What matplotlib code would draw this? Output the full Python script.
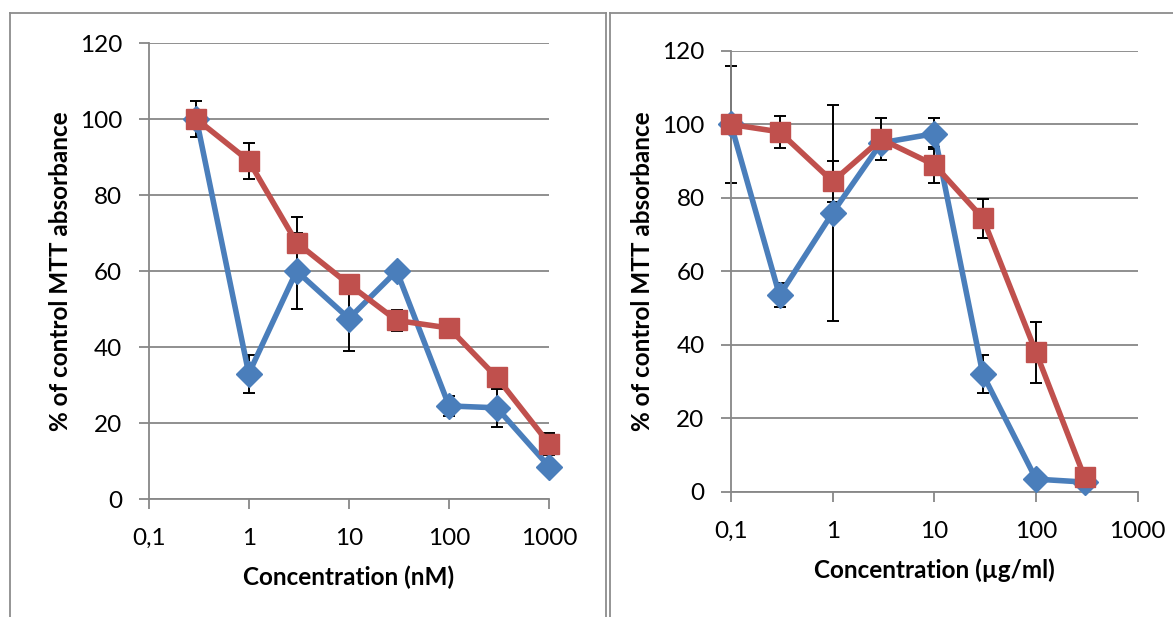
import matplotlib
matplotlib.use("Agg")
import matplotlib.pyplot as plt
import numpy as np
from matplotlib.lines import Line2D
from matplotlib.ticker import FixedLocator, FixedFormatter, NullLocator

plt.rcParams["font.family"] = ["Lato", "DejaVu Sans"]

# left panel (nM)
left_x = [0.3, 1, 3, 10, 30, 100, 300, 1000]
left_blue = [100, 33, 60, 47.5, 60, 24.5, 24, 8.5]
left_blue_err = [0, 5, 10, 8.5, 1.5, 2.7, 5, 0]
left_red = [100, 89, 67.5, 56.5, 47, 45, 32, 14.5]
left_red_err = [4.7, 4.8, 6.7, 0, 2.8, 0, 0, 2.9]

# right panel (ug/ml)
right_x = [0.1, 0.3, 1, 3, 10, 30, 100, 300]
right_blue = [100, 53.5, 76, 95, 97.5, 32, 3.5, 2.7]
right_blue_err = [16, 3.3, 29.4, 0, 4.3, 5.2, 0, 0]
right_red = [100, 98, 84.5, 96, 89, 74.5, 38, 4]
right_red_err = [0, 4.3, 5.6, 5.7, 4.8, 5.3, 8.3, 0]

x_ticks = [0.1, 1, 10, 100, 1000]
x_ticklabels = ["0,1", "1", "10", "100", "1000"]
y_ticks = [0, 20, 40, 60, 80, 100, 120]

BLUE = "#4A7EBB"
RED = "#C0504D"
GRID = "#878787"
FS = 17.5


def draw_panel(ax, x, blue, blue_err, red, red_err, xlabel):
    x = np.asarray(x, dtype=float)
    for y, e in ((blue, blue_err), (red, red_err)):
        y = np.asarray(y, dtype=float)
        e = np.asarray(e, dtype=float)
        m = e > 0
        bars = ax.errorbar(x[m], y[m], yerr=e[m], fmt="none", ecolor="black",
                           elinewidth=1.4, capsize=4.5, capthick=1.4, zorder=2)
        for art in bars.get_children():
            art.set_clip_on(False)
    ax.plot(x, blue, color=BLUE, lw=4, marker="D", ms=13,
            markeredgecolor=BLUE, zorder=3, clip_on=False)
    ax.plot(x, red, color=RED, lw=4, marker="s", ms=14.5,
            markeredgecolor=RED, zorder=4, clip_on=False)

    ax.set_xscale("log")
    ax.set_xlim(0.1, 1000)
    ax.set_ylim(0, 120)
    ax.xaxis.set_major_locator(FixedLocator(x_ticks))
    ax.xaxis.set_major_formatter(FixedFormatter(x_ticklabels))
    ax.xaxis.set_minor_locator(NullLocator())
    ax.set_yticks(y_ticks)
    ax.yaxis.grid(True, color=GRID, lw=1.3)
    ax.set_axisbelow(True)
    for s in ("top", "right"):
        ax.spines[s].set_visible(False)
    for s in ("left", "bottom"):
        ax.spines[s].set_color(GRID)
        ax.spines[s].set_linewidth(1.3)
    ax.tick_params(axis="both", direction="out", color=GRID, width=1.3,
                   length=7, labelsize=FS)
    ax.tick_params(axis="x", pad=14)
    ax.tick_params(axis="y", pad=12)
    ax.set_xlabel(xlabel, fontsize=FS, fontweight="bold", labelpad=12)
    ax.set_ylabel("% of control MTT absorbance", fontsize=FS,
                  fontweight="bold", labelpad=6)


fig = plt.figure(figsize=(11.73, 6.17), dpi=100)

ax1 = fig.add_axes([0.1267, 0.1912, 0.3415, 0.7391])
draw_panel(ax1, left_x, left_blue, left_blue_err, left_red, left_red_err,
           "Concentration (nM)")

ax2 = fig.add_axes([0.6232, 0.2026, 0.3467, 0.7148])
draw_panel(ax2, right_x, right_blue, right_blue_err, right_red, right_red_err,
           "Concentration (µg/ml)")

# chart frames
W, H = 1173.0, 617.0
frame_kw = dict(color="#8c8c8c", lw=1.3, transform=fig.transFigure)
for x0, x1 in ((10, 606), (610, 1180)):
    fig.add_artist(Line2D([x0 / W, x0 / W], [0, 1 - 13 / H], **frame_kw))
    fig.add_artist(Line2D([x0 / W, x1 / W], [1 - 13 / H, 1 - 13 / H], **frame_kw))
    fig.add_artist(Line2D([x1 / W, x1 / W], [0, 1 - 13 / H], **frame_kw))

fig.savefig("out.png", dpi=100)
